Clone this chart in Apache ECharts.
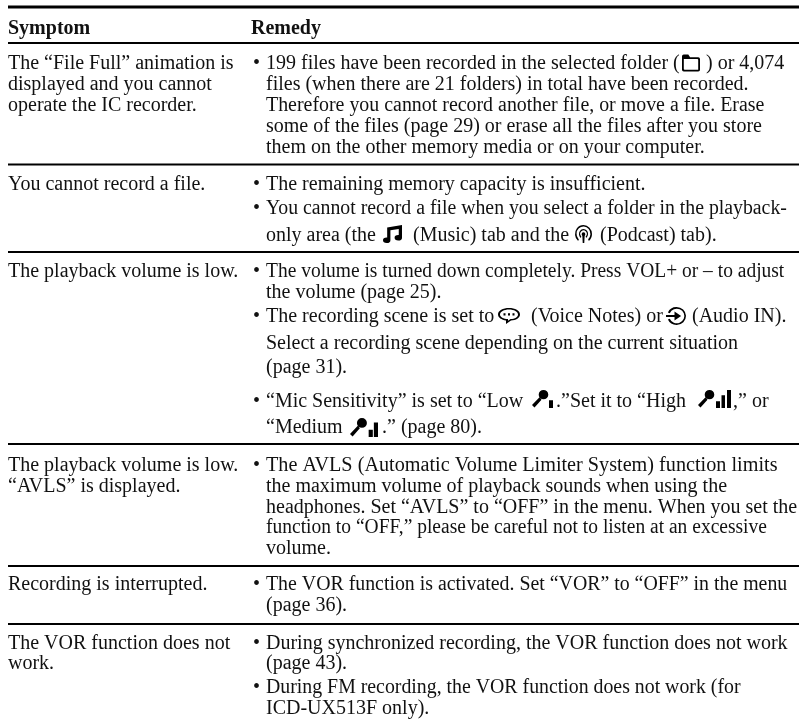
<!DOCTYPE html>
<html>
<head>
<meta charset="utf-8">
<style>
  html, body { margin: 0; padding: 0; background: #fff; }
  #main { width: 799px; height: 724px; }
</style>
<script src="https://cdn.jsdelivr.net/npm/echarts@6/dist/echarts.min.js"></script>
</head>
<body>
<div id="main"></div>
<script>
// 表頭
const headers = ['Symptom', 'Remedy']

// 左欄文字
const symptomLines = [
  'The “File Full” animation is',
  'displayed and you cannot',
  'operate the IC recorder.',
  'You cannot record a file.',
  'The playback volume is low.',
  'The playback volume is low.',
  '“AVLS” is displayed.',
  'Recording is interrupted.',
  'The VOR function does not',
  'work.'
]

// 右欄文字，有圖示的行拆成多段
const remedyLines = [
  ['199 files have been recorded in the selected folder (', ') or 4,074'],
  ['files (when there are 21 folders) in total have been recorded.'],
  ['Therefore you cannot record another file, or move a file. Erase'],
  ['some of the files (page 29) or erase all the files after you store'],
  ['them on the other memory media or on your computer.'],
  ['The remaining memory capacity is insufficient.'],
  ['You cannot record a file when you select a folder in the playback-'],
  ['only area (the', '(Music) tab and the', '(Podcast) tab).'],
  ['The volume is turned down completely. Press VOL+ or – to adjust'],
  ['the volume (page 25).'],
  ['The recording scene is set to', '(Voice Notes) or', '(Audio IN).'],
  ['Select a recording scene depending on the current situation'],
  ['(page 31).'],
  ['“Mic Sensitivity” is set to “Low', '.”Set it to “High', ',” or'],
  ['“Medium', '.” (page 80).'],
  ['The AVLS (Automatic Volume Limiter System) function limits'],
  ['the maximum volume of playback sounds when using the'],
  ['headphones. Set “AVLS” to “OFF” in the menu. When you set the'],
  ['function to “OFF,” please be careful not to listen at an excessive'],
  ['volume.'],
  ['The VOR function is activated. Set “VOR” to “OFF” in the menu'],
  ['(page 36).'],
  ['During synchronized recording, the VOR function does not work'],
  ['(page 43).'],
  ['During FM recording, the VOR function does not work (for'],
  ['ICD-UX513F only).']
]

// 版面位置（像素）
const symptomY = [64, 85, 105.5, 185, 272, 465.5, 486.5, 585, 643.5, 664]
const remedyY = [64, 85, 105.5, 126.5, 147.5, 185, 209, 236, 272, 293, 317, 344, 368, 402, 428, 465.5, 486.5, 507.5, 528, 549, 585, 606, 643.5, 664, 688, 709]
const bulletLines = [0, 5, 6, 8, 10, 13, 15, 20, 22, 24]
const segmentX = {
  0: [266, 706],
  7: [266, 413, 600],
  10: [266, 531, 692],
  13: [266, 556, 733],
  14: [266, 382]
}
// 原圖字距較緊的行，水平縮放對齊行尾
const lineFit = { 2: 0.995, 6: 0.989, 8: 0.974, 15: 1.01, 18: 0.975, 20: 0.992, 24: 0.991 }
const ruleY = [7, 43, 164.5, 252, 444, 566, 624]
const ruleWidth = [3, 2, 2, 2, 2, 2, 2]

// 圖示 path
const micBody = 'M11.5 0.5 A4.8 4.8 0 1 1 11.49 0.5 Z M7.5 8 L9.5 10.5 L2.5 18.5 L0 16 Z '
const iconPaths = {
  folder: 'M2 5 Q2 3 4 3 L9 3 L11 6 L20 6 Q22 6 22 8 L22 20 Q22 22 20 22 L4 22 Q2 22 2 20 Z M4 8 L4 19 Q4 20 5 20 L20 20 L20 9 Q20 8 19 8 Z',
  music: 'M6 5 L22 2 L22 18 A4 3.5 0 1 1 18.5 14.6 L18.5 7 L9.5 8.6 L9.5 21 A4 3.5 0 1 1 6 17.6 Z',
  podcast: 'M12 1 A11 11 0 0 1 19 20.5 L18 18.5 A9 9 0 1 0 6 18.5 L5 20.5 A11 11 0 0 1 12 1 Z M12 6 A6 6 0 0 1 15.5 16.8 L14.8 15 A4.2 4.2 0 1 0 9.2 15 L8.5 16.8 A6 6 0 0 1 12 6 Z M12 10 A2.4 2.4 0 1 1 11.99 10 Z M10.5 14 L13.5 14 L13 23 L11 23 Z',
  voice: 'M12 2 C18 2 23 5.5 23 10.5 C23 15 19 18 14 18.5 L9 23 L9 18.3 C4.5 17.5 1 14.5 1 10.5 C1 5.5 6 2 12 2 Z M12 4 C7 4 3 6.8 3 10.5 C3 14 6.5 16.5 11 16.6 L11 18.7 L13.5 16.6 C18 16.4 21 14 21 10.5 C21 6.8 17 4 12 4 Z M6.5 9 L8.5 9 L8.5 12 L6.5 12 Z M11 9 L13 9 L13 12 L11 12 Z M15.5 9 L17.5 9 L17.5 12 L15.5 12 Z',
  audio: 'M12 2 A10 10 0 1 1 3 16 L5 15 A8 8 0 1 0 5 9 L3 8 A10 10 0 0 1 12 2 Z M1 11 L10 11 L10 7 L17 12 L10 17 L10 13 L1 13 Z',
  mic1: micBody + 'M17 11 L21 11 L21 19 L17 19 Z',
  mic2: micBody + 'M18 12 L22 12 L22 19 L18 19 Z M23 5 L27 5 L27 19 L23 19 Z',
  mic3: micBody + 'M18 12 L22 12 L22 19 L18 19 Z M23.5 6 L27 6 L27 19 L23.5 19 Z M29 0.5 L33 0.5 L33 19 L29 19 Z'
}
// name, x, 中心 y, w, h
const icons = [
  ['folder', 682, 63, 18, 17],
  ['music', 383, 234, 19, 18],
  ['podcast', 575, 234, 17, 18],
  ['voice', 498, 316, 22, 16],
  ['audio', 666, 316, 20, 18],
  ['mic1', 532, 399, 21, 18],
  ['mic3', 698, 399, 33, 18],
  ['mic2', 350, 427.5, 28, 19]
]

const fontFamily = '"Liberation Serif", "Times New Roman", serif'
const fontSize = 20
const textColor = '#111'

// 組出文字資料：x, y, 內容, 是否粗體, 水平縮放
const textData = []
headers.forEach((h, i) => textData.push([i === 0 ? 8 : 251, 29, h, 1, 1]))
symptomLines.forEach((t, i) => textData.push([8, symptomY[i], t, 0, 1]))
remedyLines.forEach((segs, i) => {
  const xs = segmentX[i] || [266]
  segs.forEach((t, j) => textData.push([xs[j], remedyY[i], t, 0, lineFit[i] || 1]))
})
bulletLines.forEach(i => textData.push([253, remedyY[i], '•', 0, 1]))

const chart = echarts.init(document.getElementById('main'), null, { renderer: 'canvas' })

const option = {
  animation: false,
  backgroundColor: '#fff',
  grid: { left: 0, right: 0, top: 0, bottom: 0 },
  xAxis: { type: 'value', min: 0, max: 799, show: false },
  yAxis: { type: 'value', min: 0, max: 724, inverse: true, show: false },
  series: [
    {
      // 分隔線
      type: 'custom',
      silent: true,
      data: ruleY.map((y, i) => [y, ruleWidth[i]]),
      renderItem: (params, api) => {
        const p = api.coord([8, api.value(0)])
        const q = api.coord([799, api.value(0)])
        return {
          type: 'line',
          shape: { x1: p[0], y1: p[1], x2: q[0], y2: q[1] },
          style: { stroke: '#000', lineWidth: api.value(1) }
        }
      }
    },
    {
      // 文字
      type: 'custom',
      silent: true,
      data: textData,
      encode: { x: 0, y: 1 },
      renderItem: (params, api) => {
        const d = textData[params.dataIndex]
        const p = api.coord([d[0], d[1]])
        return {
          type: 'text',
          x: p[0],
          y: p[1],
          scaleX: d[4],
          style: {
            text: d[2],
            fill: textColor,
            font: (d[3] ? 'bold ' : '') + fontSize + 'px ' + fontFamily,
            textAlign: 'left',
            textVerticalAlign: 'middle'
          }
        }
      }
    },
    {
      // 圖示
      type: 'custom',
      silent: true,
      data: icons.map(c => [c[1], c[2]]),
      renderItem: (params, api) => {
        const ic = icons[params.dataIndex]
        const p = api.coord([ic[1], ic[2]])
        return {
          type: 'path',
          shape: {
            pathData: iconPaths[ic[0]],
            layout: 'cover',
            x: p[0],
            y: p[1] - ic[4] / 2,
            width: ic[3],
            height: ic[4]
          },
          style: { fill: '#000' }
        }
      }
    }
  ]
}

chart.setOption(option)
window.addEventListener('resize', () => chart.resize())
</script>
</body>
</html>
